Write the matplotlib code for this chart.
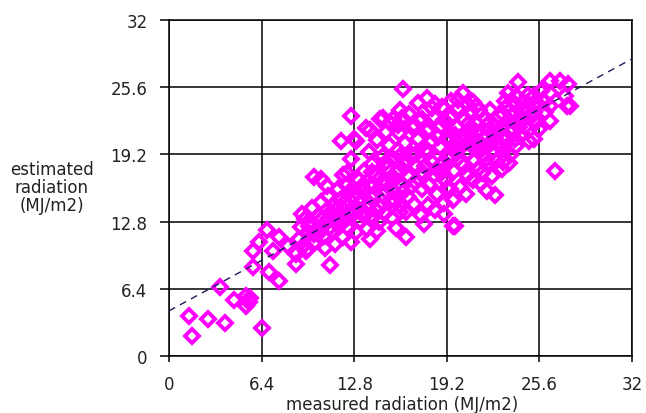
import numpy as np
import matplotlib
matplotlib.use("Agg")
import matplotlib.pyplot as plt

# measured vs estimated daily radiation (MJ/m2)
measured = [
    # sparse / edge points
    1.4, 1.6, 2.7, 3.9, 3.5, 4.5, 5.3, 5.5, 5.3, 5.6, 6.4,
    5.8, 5.8, 6.2, 6.8, 7.2, 7.6, 6.9, 7.6, 8.2, 8.8, 8.8, 9.5, 9.2,
    10.0, 10.9, 12.0, 12.6, 12.5, 8.7, 9.6, 11.1, 13.9, 14.4,
    15.7, 16.4, 17.6, 19.8, 21.5, 22.0, 22.5, 16.0,
    26.7, 19.6, 22.0, 22.9, 24.0, 24.9,
    16.2, 12.6, 14.6, 15.3, 16.1, 13.9, 11.9, 12.9,
    20.3, 24.1, 23.4, 23.8, 24.4, 21.0, 17.5, 21.4,
    26.3, 27.0, 27.6, 25.2, 26.3, 27.4, 27.7, 25.9, 26.3, 27.5, 26.3, 25.2,
    23.3, 24.5, 25.4, 23.8, 24.6, 25.6, 24.3, 25.2, 23.3, 23.2, 23.6, 23.1,
    10.5, 14.8, 15.5, 13.6, 12.8,
    # dense core
    9.0, 9.1, 9.3, 9.4, 9.6, 9.8, 9.9, 10.1, 10.2, 10.4, 10.5, 10.7, 10.8, 10.9, 11.0, 11.2, 11.3, 11.4,
    11.5, 11.6, 11.7, 11.9, 12.0, 12.1, 12.2, 12.4, 12.5, 12.6, 12.7, 12.9, 13.0, 13.1, 13.2, 13.4, 13.5, 13.5, 11.8, 12.3,
    13.7, 13.8, 13.9, 14.0, 14.1, 14.2, 14.3, 14.5, 14.6, 14.7, 14.8, 14.9, 15.0, 15.1, 15.2, 15.3, 15.4, 15.5, 13.8, 14.4, 15.0, 15.4,
    15.6, 15.7, 15.8, 15.9, 16.0, 16.1, 16.2, 16.3, 16.4, 16.5, 16.6, 16.7, 16.8, 16.9, 17.0, 17.1, 17.2, 17.3, 17.4, 17.5, 16.0, 16.6, 17.2, 15.8,
    17.6, 17.7, 17.8, 17.9, 18.0, 18.1, 18.2, 18.3, 18.4, 18.5, 18.6, 18.7, 18.8, 18.9, 19.0, 19.1, 19.2, 19.3, 19.4, 19.5, 17.8, 18.4, 19.0, 19.4, 18.2, 18.9,
    19.6, 19.7, 19.8, 19.9, 20.0, 20.1, 20.2, 20.3, 20.4, 20.5, 20.6, 20.7, 20.8, 20.9, 21.0, 21.1, 21.2, 21.3, 21.4, 21.5, 20.0, 20.6, 21.2,
    21.6, 21.7, 21.8, 21.9, 22.0, 22.1, 22.2, 22.3, 22.4, 22.6, 22.7, 22.8, 22.9, 23.0, 23.1, 23.2, 23.4, 23.5,
    23.7, 23.9, 24.0, 24.2, 24.6, 24.8, 25.0, 25.4, 25.7, 26.0,
]
estimated = [
    3.8, 1.9, 3.5, 3.1, 6.6, 5.3, 5.7, 5.1, 4.8, 5.5, 2.7,
    8.5, 10.0, 10.9, 12.0, 10.0, 11.3, 8.0, 7.1, 10.5, 9.7, 8.8, 10.0, 13.5,
    17.0, 16.2, 17.2, 18.8, 15.7, 9.9, 10.2, 8.7, 11.1, 11.9,
    12.2, 11.3, 12.6, 12.4, 16.5, 15.7, 15.3, 13.7,
    17.6, 12.4, 20.0, 20.2, 20.0, 20.5,
    25.4, 22.9, 22.6, 22.2, 22.7, 21.5, 20.5, 20.5,
    25.0, 26.1, 25.0, 24.2, 23.5, 24.2, 22.6, 23.4,
    26.2, 26.2, 25.9, 24.8, 25.0, 24.8, 23.8, 24.2, 23.8, 23.8, 22.4, 23.2,
    23.7, 22.6, 22.3, 21.6, 21.8, 21.6, 21.0, 20.7, 20.7, 19.7, 19.1, 18.5,
    16.9, 22.7, 22.6, 21.7, 20.7,
    11.1, 12.3, 10.6, 13.0, 11.8, 12.7, 14.1, 10.9, 12.1, 13.3, 14.7, 11.4, 10.3, 12.8, 15.2, 13.7, 11.9, 14.4,
    10.7, 12.6, 15.9, 13.4, 11.3, 14.6, 16.3, 12.2, 13.8, 10.9, 15.2, 11.8, 14.1, 16.8, 12.9, 15.6, 13.3, 17.6, 14.9, 17.4,
    12.1, 14.6, 16.2, 18.3, 13.2, 15.4, 17.1, 12.8, 14.2, 16.6, 19.0, 13.6, 15.7, 17.9, 20.1, 14.8, 16.9, 18.8, 19.4, 20.6, 21.3, 13.1,
    15.5, 17.4, 19.6, 21.2, 14.3, 16.2, 18.4, 20.3, 13.7, 15.1, 17.0, 19.2, 21.8, 14.5, 16.6, 18.1, 20.7, 22.5, 13.4, 15.9, 23.4, 23.0, 24.1, 22.0,
    17.3, 19.5, 21.4, 14.4, 16.3, 18.6, 20.5, 22.8, 13.9, 15.4, 17.7, 19.9, 21.9, 23.7, 14.6, 16.8, 18.9, 20.9, 22.7, 24.3, 24.6, 24.0, 13.5, 15.9, 23.6, 17.5,
    14.9, 17.6, 19.7, 21.8, 23.6, 16.1, 18.4, 20.6, 22.5, 15.4, 17.2, 19.3, 21.4, 23.3, 16.8, 18.7, 20.2, 22.1, 17.9, 19.6, 24.4, 24.0, 23.8,
    17.4, 19.0, 20.8, 22.6, 18.3, 21.5, 23.4, 17.1, 19.5, 18.6, 21.1, 22.9, 19.9, 17.8, 21.9, 24.3, 22.4, 18.4,
    22.9, 20.7, 24.8, 21.8, 23.6, 24.9, 22.8, 23.9, 25.2, 23.2,
]

# more points inside the solid part of the cloud
measured_core = [
    9.7, 10.3, 10.6, 11.1, 11.4, 11.6, 12.0, 12.3, 12.8, 13.2,
    13.6, 13.3, 14.0, 14.4, 14.2, 14.8, 15.1, 15.6, 15.9, 16.2,
    16.5, 16.8, 17.1, 17.4, 17.7, 18.0, 18.3, 18.6, 18.9, 19.2,
    19.5, 19.8, 20.1, 20.4, 20.7, 21.0, 21.3, 21.6, 21.9, 22.2,
    22.5, 22.8, 23.1, 17.0, 18.0, 19.0, 20.0, 21.0, 16.0, 15.0,
    14.0, 13.0, 12.0, 11.0, 10.0, 22.0, 23.0, 24.0, 24.5, 25.5,
]
estimated_core = [
    12.4, 11.6, 13.0, 12.3, 13.1, 14.0, 12.8, 13.1, 13.6, 14.7,
    14.2, 16.1, 15.0, 13.8, 16.3, 15.3, 16.5, 14.8, 17.8, 15.6,
    18.6, 16.2, 19.2, 17.4, 18.1, 19.4, 17.2, 20.9, 18.3, 16.0,
    19.1, 21.0, 19.8, 18.1, 22.1, 19.9, 21.2, 20.1, 18.8, 20.2,
    21.8, 20.1, 23.0, 21.9, 21.6, 22.5, 20.5, 20.9, 19.0, 18.5,
    17.5, 15.5, 14.0, 13.0, 11.6, 22.0, 20.8, 22.4, 24.2, 24.0,
]

# linear trend line (intercept, slope)
trend_a = 4.3
trend_b = 0.75

ticks = [0, 6.4, 12.8, 19.2, 25.6, 32]
tick_labels = ["0", "6.4", "12.8", "19.2", "25.6", "32"]

fig = plt.figure(figsize=(6.46, 4.14), dpi=100)
ax = fig.add_axes([0.2616, 0.1377, 0.7167, 0.8116])

x = measured + measured_core
y = estimated + estimated_core
ax.plot(x, y, linestyle='none', marker='D', markersize=7.6,
        markerfacecolor='none', markeredgecolor='#ff00ff', markeredgewidth=2.8,
        zorder=3)

tx = np.array([0, 32])
ax.plot(tx, trend_a + trend_b * tx, color='#1c1c5c', lw=1.0,
        dashes=(5, 4), zorder=4)

ax.set_xlim(0, 32)
ax.set_ylim(0, 32)
ax.set_xticks(ticks)
ax.set_xticklabels(tick_labels)
ax.set_yticks(ticks)
ax.set_yticklabels(tick_labels)
ax.grid(True, color='black', lw=1.1, zorder=1)
ax.set_axisbelow(True)
for s in ax.spines.values():
    s.set_color('black')
    s.set_linewidth(1.1)
ax.tick_params(axis='y', length=6.5, width=1.1, pad=9, labelsize=12, labelcolor='#222222')
ax.tick_params(axis='x', length=4.5, width=1.1, pad=9, labelsize=12, labelcolor='#222222')

fig.text(0.622, 0.022, "measured radiation (MJ/m2)", ha='center', va='center',
         fontsize=12, color='#222222')
fig.text(0.080, 0.545, "estimated\nradiation\n(MJ/m2)", ha='center', va='center',
         fontsize=12, color='#222222', linespacing=1.0)

fig.savefig("out.png", dpi=100)
